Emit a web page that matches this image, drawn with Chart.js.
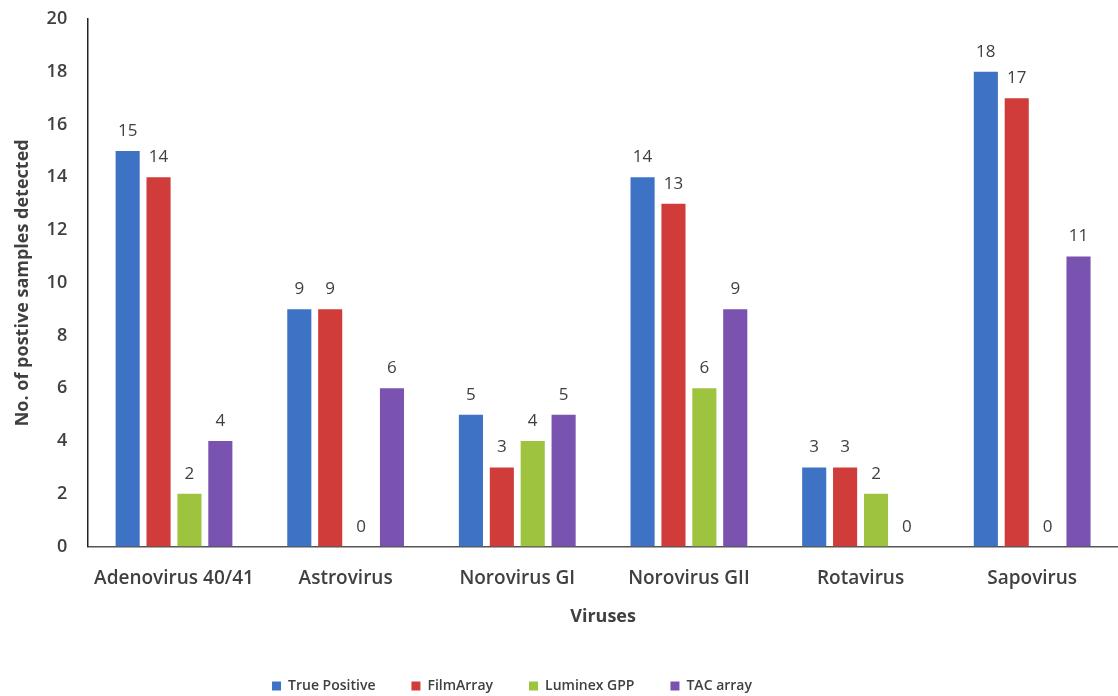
<!DOCTYPE html>
<html>
<head>
<meta charset="utf-8">
<script src="https://cdn.jsdelivr.net/npm/chart.js@4.4.1/dist/chart.umd.min.js"></script>
<style>
  html, body { margin: 0; padding: 0; background: #fff; }
  #wrap { width: 1118px; height: 696px; position: relative; }
</style>
</head>
<body>
<div id="wrap"><canvas id="chart"></canvas></div>
<script>
const viruses = ["Adenovirus 40/41", "Astrovirus", "Norovirus GI", "Norovirus GII", "Rotavirus", "Sapovirus"];
const truePositive = [15, 9, 5, 14, 3, 18];
const filmArray = [14, 9, 3, 13, 3, 17];
const luminexGPP = [2, 0, 4, 6, 2, 0];
const tacArray = [4, 6, 5, 9, 0, 11];
const yTicks = [0, 2, 4, 6, 8, 10, 12, 14, 16, 18, 20];

const fontFamily = "'Open Sans', 'Liberation Sans', sans-serif";
const textColor = "#404040";

// draws the value above each bar
const valueLabels = {
  id: "valueLabels",
  afterDatasetsDraw(chart) {
    const ctx = chart.ctx;
    ctx.save();
    ctx.font = "17px " + fontFamily;
    ctx.fillStyle = textColor;
    ctx.textAlign = "center";
    ctx.textBaseline = "alphabetic";
    chart.data.datasets.forEach((ds, i) => {
      chart.getDatasetMeta(i).data.forEach((bar, j) => {
        ctx.fillText(ds.data[j], bar.x, bar.y - 15);
      });
    });
    ctx.restore();
  }
};

// legend in the original sits left of centre and a bit lower
const legendShift = {
  id: "legendShift",
  afterLayout(chart) {
    const lg = chart.legend;
    lg.left -= 47;
    lg.right -= 47;
    lg.top += 7;
    lg.bottom += 7;
  }
};

let chart = new Chart(document.getElementById("chart"), {
  type: "bar",
  data: {
    labels: viruses,
    datasets: [
      { label: "True Positive", data: truePositive, backgroundColor: "#3D72C4" },
      { label: "FilmArray", data: filmArray, backgroundColor: "#D03C3A" },
      { label: "Luminex GPP", data: luminexGPP, backgroundColor: "#9DC33F" },
      { label: "TAC array", data: tacArray, backgroundColor: "#7A52AF" }
    ]
  },
  options: {
    responsive: true,
    maintainAspectRatio: false,
    animation: false,
    categoryPercentage: 0.72,
    barPercentage: 0.78,
    layout: { padding: { top: 19, right: 0, left: 0, bottom: 0 } },
    plugins: {
      tooltip: { enabled: false },
      legend: {
        position: "bottom",
        labels: {
          boxWidth: 9,
          boxHeight: 9,
          padding: 36,
          color: textColor,
          font: { family: fontFamily, size: 14, weight: "600" }
        }
      }
    },
    scales: {
      x: {
        grid: { display: false, drawTicks: false },
        border: { display: true, color: "#555", width: 1.5 },
        ticks: { color: textColor, padding: 21, font: { family: fontFamily, size: 19, weight: "600" } },
        title: { display: true, text: "Viruses", color: textColor, padding: { top: -5, bottom: 8 },
          font: { family: fontFamily, size: 18, weight: "bold" } }
      },
      y: {
        min: 0,
        max: 20,
        afterBuildTicks(axis) { axis.ticks = yTicks.map(v => ({ value: v })); },
        afterFit(axis) { axis.paddingTop = 0; },
        grid: { display: false, drawTicks: false },
        border: { display: true, color: "#222", width: 1.5 },
        ticks: { color: textColor, padding: 21, font: { family: fontFamily, size: 18, weight: "600" } },
        title: { display: true, text: "No. of postive samples detected", color: textColor, padding: { top: 12, bottom: -8 },
          font: { family: fontFamily, size: 18, weight: "bold" } }
      }
    }
  },
  plugins: [valueLabels, legendShift]
});
</script>
</body>
</html>
